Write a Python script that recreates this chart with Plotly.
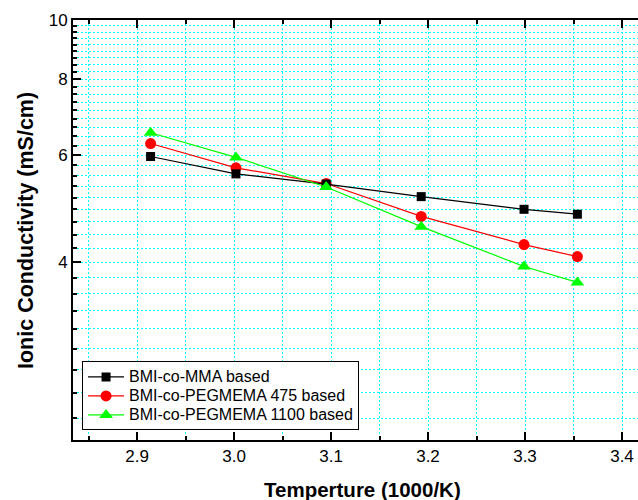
import math
import plotly.graph_objects as go

# Inverse temperature (1000/K) for each measurement
inv_temp = [2.914, 3.002, 3.095, 3.193, 3.299, 3.354]

# Ionic conductivity (mS/cm) for each copolymer electrolyte
mma_based = [5.97, 5.59, 5.38, 5.13, 4.89, 4.80]
peg475_based = [6.27, 5.72, 5.39, 4.76, 4.28, 4.09]
peg1100_based = [6.53, 5.95, 5.32, 4.58, 3.94, 3.71]

series_names = ["BMI-co-MMA based", "BMI-co-PEGMEMA 475 based", "BMI-co-PEGMEMA 1100 based"]

# Axis ticks
x_major = [2.9, 3.0, 3.1, 3.2, 3.3, 3.4]
x_labels = ["2.9", "3.0", "3.1", "3.2", "3.3", "3.4"]
y_major = [4, 6, 8, 10]
y_labels = ["4", "6", "8", "10"]
y_minor = [2 + k * 2 / 9 for k in range(1, 37) if k % 9 != 0]

FONT = "Liberation Sans, Arial, Helvetica, sans-serif"
GRID = "#00FFFF"


def legend_label(name):
    # larger text inside compact legend rows
    return '<span style="font-size:16px">' + name + "</span>"


fig = go.Figure()

# red first, black and green drawn over it
fig.add_trace(go.Scatter(
    x=inv_temp, y=peg475_based, name=legend_label(series_names[1]), legendrank=2,
    mode="lines+markers",
    line=dict(color="#FF0000", width=1.2),
    marker=dict(symbol="circle", size=11, color="#FF0000"),
))
fig.add_trace(go.Scatter(
    x=inv_temp, y=mma_based, name=legend_label(series_names[0]), legendrank=1,
    mode="lines+markers",
    line=dict(color="#000000", width=1.2),
    marker=dict(symbol="square", size=9, color="#000000"),
))
fig.add_trace(go.Scatter(
    x=inv_temp, y=peg1100_based, name=legend_label(series_names[2]), legendrank=3,
    mode="lines+markers",
    line=dict(color="#00FF00", width=1.2),
    marker=dict(symbol="triangle-up", size=12, color="#00FF00"),
))

fig.update_layout(
    width=638, height=500,
    margin=dict(l=73, r=0, t=20, b=60),
    paper_bgcolor="white", plot_bgcolor="white",
    font=dict(family=FONT, size=17, color="black"),
    showlegend=True,
    legend=dict(
        x=0.0160, y=0.187, xanchor="left", yanchor="top",
        bgcolor="white", bordercolor="black", borderwidth=1,
        font=dict(family=FONT, size=12, color="black"),
        tracegroupgap=0, itemwidth=36,
    ),
    xaxis=dict(
        range=[2.834, 3.4165],
        tickmode="array", tickvals=x_major, ticktext=x_labels,
        ticks="inside", ticklen=8, tickwidth=1.5, tickcolor="black",
        showline=True, linecolor="black", linewidth=2, mirror="ticks",
        showgrid=True, gridcolor=GRID, griddash="2px,2px", gridwidth=1,
        zeroline=False,
        minor=dict(dtick=0.05, tick0=0, ticks="inside", ticklen=4,
                   tickcolor="black", tickwidth=1.5,
                   showgrid=True, gridcolor=GRID, griddash="2px,2px", gridwidth=1),
        tickfont=dict(family=FONT, size=17),
    ),
    yaxis=dict(
        type="log",
        range=[math.log10(2.045), 1.0],
        tickmode="array", tickvals=y_major, ticktext=y_labels,
        ticks="inside", ticklen=8, tickwidth=1.5, tickcolor="black",
        showline=True, linecolor="black", linewidth=2, mirror=False,
        showgrid=True, gridcolor=GRID, griddash="2px,2px", gridwidth=1,
        zeroline=False,
        minor=dict(tickmode="array", tickvals=y_minor, ticks="inside", ticklen=4,
                   tickcolor="black", tickwidth=1.5,
                   showgrid=True, gridcolor=GRID, griddash="2px,2px", gridwidth=1),
        tickfont=dict(family=FONT, size=17),
    ),
    annotations=[
        dict(text="<b>Temperture (1000/K)</b>", xref="paper", yref="paper",
             x=0.513, y=-0.119, xanchor="center", yanchor="middle",
             showarrow=False, font=dict(family=FONT, size=20.5, color="black")),
        dict(text="<b>Ionic Conductivity (mS/cm)</b>", xref="paper", yref="paper",
             x=-0.0832, y=0.5, xanchor="center", yanchor="middle", textangle=-90,
             showarrow=False, font=dict(family=FONT, size=21.5, color="black")),
    ],
)

fig.write_html("out.html")
